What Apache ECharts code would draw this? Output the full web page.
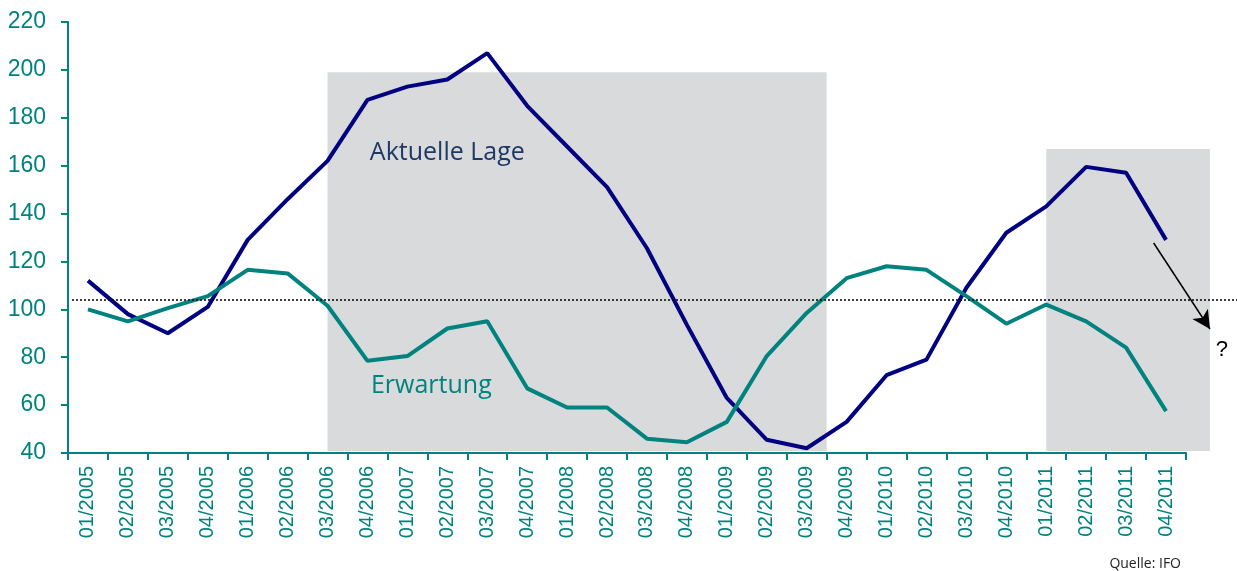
<!DOCTYPE html>
<html>
<head>
<meta charset="utf-8">
<script src="https://cdn.jsdelivr.net/npm/echarts@6/dist/echarts.min.js"></script>
<style>
  html, body { margin: 0; padding: 0; background: #fff; }
  #chart { width: 1237px; height: 571px; }
</style>
</head>
<body>
<div id="chart"></div>
<script>
// Quartale 2005 - 2011
var quarters = [
  '01/2005','02/2005','03/2005','04/2005',
  '01/2006','02/2006','03/2006','04/2006',
  '01/2007','02/2007','03/2007','04/2007',
  '01/2008','02/2008','03/2008','04/2008',
  '01/2009','02/2009','03/2009','04/2009',
  '01/2010','02/2010','03/2010','04/2010',
  '01/2011','02/2011','03/2011','04/2011'
];
var aktuelleLage = [112, 98, 90, 101, 129, 146, 162, 187.5, 193, 196, 207, 185,
  168, 151, 125.5, 93.5, 63, 45.5, 42, 53, 72.5, 79, 109, 132, 143, 159.5, 157, 129];
var erwartung = [100, 95, 100.5, 105.5, 116.5, 115, 101.5, 78.5, 80.5, 92, 95, 67,
  59, 59, 46, 44.5, 53, 80.5, 98.5, 113, 118, 116.5, 105.5, 94, 102, 95, 84, 57.5];
var yTicks = [40, 60, 80, 100, 120, 140, 160, 180, 200, 220];
var mittelwert = 104.2;   // gepunktete Linie
// graue Phasen: [von, bis, oben]
var phasen = [[6, 18.5, 199], [24, 28.1, 167]];

var teal = '#00837e';
var navy = '#000080';

// zweites Raster fuer Markierungen bis zum rechten Rand (Index-Skala wie die Kategorien)
var plotW = 1237 - 68 - 51;
var overlayMax = 27.5 + 51 / (plotW / quarters.length);

var chart = echarts.init(document.getElementById('chart'));

chart.setOption({
  animation: false,
  grid: [
    { left: 68, right: 51, top: 22, bottom: 118, containLabel: false },
    { left: 68, right: 0, top: 22, bottom: 118, containLabel: false }
  ],
  xAxis: [{
    type: 'category',
    gridIndex: 0,
    data: quarters,
    boundaryGap: true,
    axisLine: { lineStyle: { color: teal, width: 2 } },
    axisTick: { show: true, length: 7, lineStyle: { color: teal, width: 2 } },
    axisLabel: { rotate: 90, color: teal, fontSize: 20, fontFamily: 'Liberation Sans, Arial', margin: 13 },
    splitLine: { show: false }
  }, {
    type: 'value', gridIndex: 1, min: -0.5, max: overlayMax, show: false
  }],
  yAxis: [{
    type: 'value', gridIndex: 0, min: yTicks[0], max: yTicks[yTicks.length - 1], interval: 20,
    axisLine: { show: true, onZero: false, lineStyle: { color: teal, width: 2 } },
    axisTick: { show: true, length: 7, lineStyle: { color: teal, width: 2 } },
    axisLabel: { color: teal, fontSize: 23, fontFamily: 'Liberation Sans, Arial', margin: 22 },
    splitLine: { show: false }
  }, {
    type: 'value', gridIndex: 1, min: yTicks[0], max: yTicks[yTicks.length - 1], show: false
  }],
  graphic: [{
    type: 'text', right: 56, bottom: 0,
    style: { text: 'Quelle: IFO', fontSize: 14, fontFamily: 'Open Sans', fill: '#222' }
  }],
  series: [{
    // Hintergrund + Markierungen
    type: 'line', xAxisIndex: 1, yAxisIndex: 1, data: [], clip: false, z: 1,
    markArea: {
      silent: true,
      itemStyle: { color: '#d9dadc' },
      data: phasen.map(function (p) { return [{ coord: [p[0], 40.8] }, { coord: [p[1], p[2]] }]; })
    },
    markLine: {
      silent: true, symbol: 'none', animation: false,
      label: { show: false },
      data: [
        [{ coord: [-0.4, mittelwert], lineStyle: { color: '#000', type: [2, 2], width: 1.5 } },
         { coord: [overlayMax, mittelwert] }],
        [{ coord: [26.69, 127.7], symbol: 'none', lineStyle: { color: '#000', type: 'solid', width: 1.5 } },
         { coord: [28.1, 91.8], symbol: 'arrow', symbolSize: [14, 18] }]
      ]
    },
    markPoint: {
      silent: true, symbol: 'circle', symbolSize: 1,
      itemStyle: { color: 'rgba(0,0,0,0)' },
      data: [
        { coord: [9.0, 165.3], label: { show: true, position: 'inside', formatter: 'Aktuelle Lage', color: '#1f3864', fontSize: 25, fontFamily: 'Open Sans' } },
        { coord: [8.6, 68], label: { show: true, position: 'inside', formatter: 'Erwartung', color: teal, fontSize: 25, fontFamily: 'Open Sans' } },
        { coord: [28.4, 83], label: { show: true, position: 'inside', formatter: '?', color: '#000', fontSize: 22, fontFamily: 'Liberation Sans' } }
      ]
    }
  }, {
    name: 'Aktuelle Lage', type: 'line', data: aktuelleLage, z: 3,
    symbol: 'none', lineStyle: { color: navy, width: 4 }
  }, {
    name: 'Erwartung', type: 'line', data: erwartung, z: 3,
    symbol: 'none', lineStyle: { color: teal, width: 4 }
  }]
});
</script>
</body>
</html>
